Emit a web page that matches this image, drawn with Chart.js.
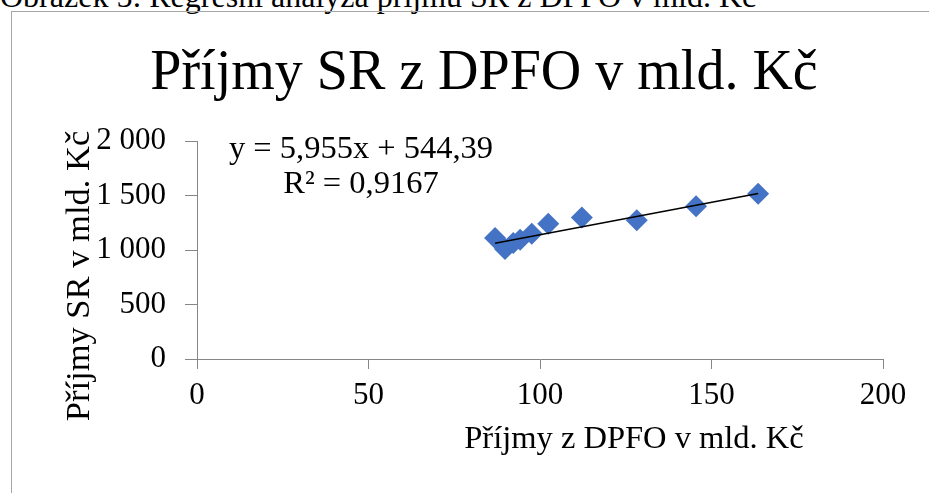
<!DOCTYPE html>
<html>
<head>
<meta charset="utf-8">
<script src="https://cdn.jsdelivr.net/npm/chart.js@4.4.0/dist/chart.umd.min.js"></script>
<style>
  html, body { margin: 0; padding: 0; background: #fff; overflow: hidden; }
  #caption { position: absolute; left: 0; top: -20px; font: 32px/32px "Liberation Serif", serif; color: #000; white-space: nowrap; }
  #frame { position: absolute; left: 11px; top: 11px; width: 960px; height: 520px; border: 1px solid #a6a6a6; }
  #wrap { position: absolute; left: 0; top: 0; width: 929px; height: 493px; }
</style>
</head>
<body>
<div id="caption">Obrázek 5: Regresní analýza příjmů SR z DPFO v mld. Kč</div>
<div id="frame"></div>
<div id="wrap"><canvas id="grafRegrese"></canvas></div>
<script>
// hodnoty
const prijmyDPFO = [86.9, 89.8, 92.2, 94.2, 97.6, 102.4, 112.2, 128.2, 145.5, 163.6];
const prijmySR = [1110, 1010, 1065, 1095, 1150, 1240, 1298, 1273, 1401, 1517];
// konce spojnice trendu
const trendX = [86.9, 163.6];
const trendY = [1062, 1519];
const xTicks = ['0', '50', '100', '150', '200'];
const yTicks = ['0', '500', '1 000', '1 500', '2 000'];
const rovnice = ['y = 5,955x + 544,39', 'R² = 0,9167'];
const nadpis = 'Příjmy SR z DPFO v mld. Kč';
const osaX = 'Příjmy z DPFO v mld. Kč';
const osaY = 'Příjmy SR v mld. Kč';

const pismo = 'Liberation Serif';

// popisky os a rovnice regrese
const popisky = {
    id: 'popisky',
    afterDraw(chart) {
        const ctx = chart.ctx;
        ctx.save();
        ctx.fillStyle = '#000';
        ctx.textAlign = 'center';
        ctx.textBaseline = 'alphabetic';
        ctx.font = '32.5px "' + pismo + '"';
        ctx.fillText(rovnice[0], 361, 158);
        ctx.fillText(rovnice[1], 361, 193);
        ctx.fillText(osaX, 634, 448);
        ctx.font = '34.5px "' + pismo + '"';
        ctx.translate(89, 276);
        ctx.rotate(-Math.PI / 2);
        ctx.fillText(osaY, 0, 0);
        ctx.restore();
    }
};

document.addEventListener('DOMContentLoaded', function() {
    const ctx = document.getElementById('grafRegrese').getContext('2d');
    new Chart(ctx, {
        type: 'scatter',
        data: {
            datasets: [
                {
                    label: 'trend',
                    data: trendX.map((x, i) => ({ x: x, y: trendY[i] })),
                    showLine: true,
                    borderColor: '#000',
                    borderWidth: 1.5,
                    pointRadius: 0,
                    pointHoverRadius: 0
                },
                {
                    label: 'Příjmy SR',
                    data: prijmyDPFO.map((x, i) => ({ x: x, y: prijmySR[i] })),
                    backgroundColor: '#4472C4',
                    borderColor: '#4472C4',
                    pointStyle: 'rectRot',
                    pointRadius: 11,
                    pointHoverRadius: 11,
                    pointBorderWidth: 0
                }
            ]
        },
        options: {
            responsive: true,
            maintainAspectRatio: false,
            animation: false,
            layout: { padding: { left: 40, right: 1, top: 11, bottom: 0 } },
            plugins: {
                legend: { display: false },
                tooltip: { enabled: false },
                title: {
                    display: true,
                    text: nadpis,
                    color: '#000',
                    font: { family: pismo, size: 56, weight: 'normal', lineHeight: 1.2 },
                    padding: { top: 30, bottom: 32.8 }
                }
            },
            scales: {
                x: {
                    type: 'linear',
                    min: 0,
                    max: 200,
                    afterFit: function(scale) {
                        scale.height = 134;
                        scale.paddingRight = 46;
                    },
                    ticks: {
                        stepSize: 50,
                        color: '#000',
                        padding: 8,
                        font: { family: pismo, size: 31 },
                        callback: (v, i) => xTicks[i]
                    },
                    grid: { drawOnChartArea: false, drawTicks: true, tickLength: 10, color: '#868686' },
                    border: { display: true, color: '#868686', width: 1 }
                },
                y: {
                    type: 'linear',
                    min: 0,
                    max: 2000,
                    afterFit: function(scale) {
                        scale.width = 157;
                    },
                    ticks: {
                        stepSize: 500,
                        color: '#000',
                        padding: 19,
                        font: { family: pismo, size: 31 },
                        callback: (v, i) => yTicks[i]
                    },
                    grid: { drawOnChartArea: false, drawTicks: true, tickLength: 12, color: '#868686' },
                    border: { display: true, color: '#868686', width: 1 }
                }
            }
        },
        plugins: [popisky]
    });
});
</script>
</body>
</html>
